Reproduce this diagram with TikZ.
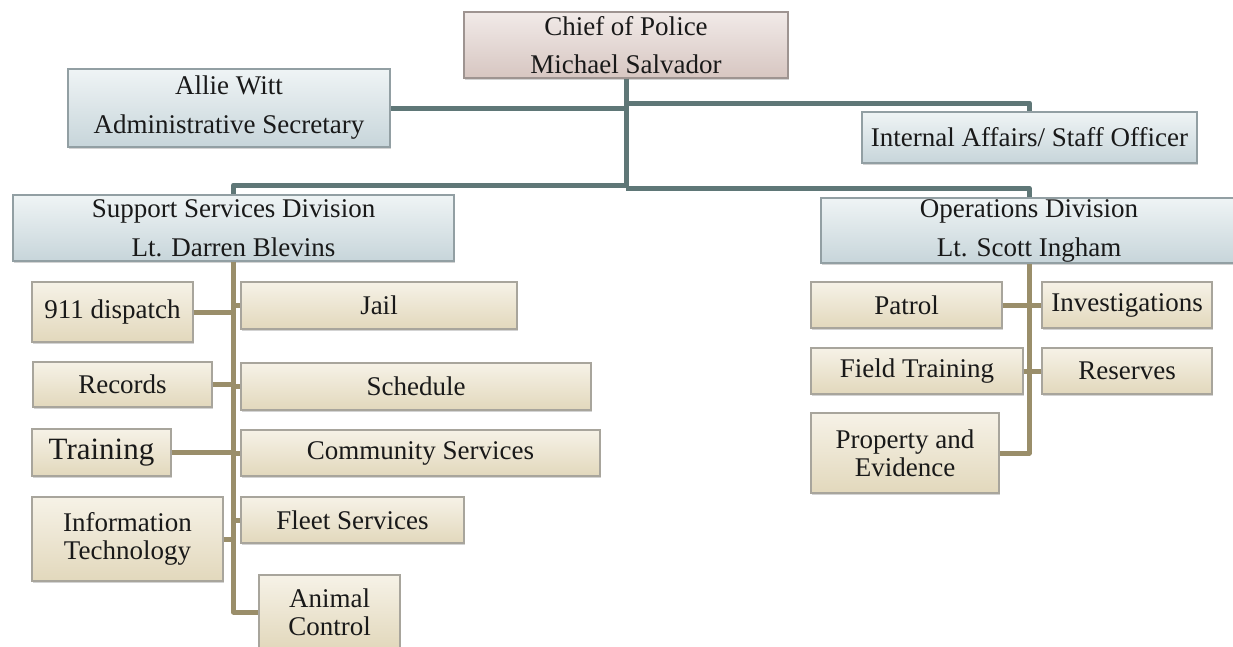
\documentclass[tikz,border=0pt]{standalone}
\usepackage{fontspec}
\setmainfont{Liberation Serif}
\usetikzlibrary{shadows}
\definecolor{linegray}{HTML}{5F7777}
\definecolor{linetan}{HTML}{9A8E6A}
\definecolor{bluetop}{HTML}{EFF4F5}
\definecolor{bluebot}{HTML}{C7D5DA}
\definecolor{blueedge}{HTML}{929FA3}
\definecolor{tantop}{HTML}{F6F2E7}
\definecolor{tanbot}{HTML}{E2D8BC}
\definecolor{tanedge}{HTML}{A8A59C}
\definecolor{pinktop}{HTML}{F1EAE8}
\definecolor{pinkbot}{HTML}{D7C6C1}
\definecolor{pinkedge}{HTML}{9E9491}
\tikzset{
  box/.style={draw, line width=1.2pt, inner sep=1pt, align=center, text=black!90,
    drop shadow={shadow xshift=.8pt, shadow yshift=-2.2pt, opacity=.35}},
  headbox/.style={box, draw=pinkedge, top color=pinktop, bottom color=pinkbot,
    font=\fontsize{27}{38}\selectfont},
  bluebox/.style={box, draw=blueedge, top color=bluetop, bottom color=bluebot,
    font=\fontsize{27}{39}\selectfont},
  tanbox/.style={box, draw=tanedge, top color=tantop, bottom color=tanbot,
    font=\fontsize{27}{28}\selectfont},
  grayline/.style={draw=linegray, line width=5pt, line join=round},
  tanline/.style={draw=linetan, line width=5pt, line join=round}
}
\begin{document}
\begin{tikzpicture}[x=1pt, y=-1pt]
    \useasboundingbox (0, 0) rectangle (1233, 646);
    \node[headbox, minimum width=324pt, minimum height=66pt] (0) at (626, 45) {Chief of Police\\Michael Salvador};
    \node[bluebox, minimum width=322pt, minimum height=78pt] (1) at (229, 108) {Allie Witt\\Administrative Secretary};
    \node[bluebox, minimum width=335pt, minimum height=51pt] (2) at (1029.5, 137.5) {Internal Affairs/ Staff Officer};
    \node[bluebox, minimum width=441pt, minimum height=66pt] (3) at (233.5, 228) {Support Services Division\\Lt. Darren Blevins};
    \node[bluebox, minimum width=416pt, minimum height=65pt] (4) at (1029, 230.5) {Operations Division\\Lt. Scott Ingham};
    \node[tanbox, minimum width=161pt, minimum height=60pt] (11) at (112.5, 312) {911 dispatch};
    \node[tanbox, minimum width=276pt, minimum height=47pt] (12) at (379, 305.5) {Jail};
    \node[tanbox, minimum width=179pt, minimum height=45pt] (13) at (122.5, 384.5) {Records};
    \node[tanbox, minimum width=350pt, minimum height=47pt] (14) at (416, 386.5) {Schedule};
    \node[tanbox, minimum width=139pt, minimum height=47pt, font=\fontsize{31}{32}\selectfont] (15) at (101.5, 452.5) {Training};
    \node[tanbox, minimum width=359pt, minimum height=46pt] (16) at (420.5, 453) {Community Services};
    \node[tanbox, minimum width=191pt, minimum height=84pt] (17) at (127.5, 539) {Information\\Technology};
    \node[tanbox, minimum width=223pt, minimum height=46pt] (18) at (352.5, 520) {Fleet Services};
    \node[tanbox, minimum width=141pt, minimum height=74pt] (19) at (329.5, 612) {Animal\\Control};
    \node[tanbox, minimum width=191pt, minimum height=46pt] (21) at (906.5, 305) {Patrol};
    \node[tanbox, minimum width=170pt, minimum height=46pt] (22) at (1127, 305) {Investigations};
    \node[tanbox, minimum width=212pt, minimum height=46pt] (23) at (917, 371) {Field Training};
    \node[tanbox, minimum width=170pt, minimum height=46pt] (24) at (1127, 371) {Reserves};
    \node[tanbox, minimum width=188pt, minimum height=80pt] (25) at (905, 453) {Property and\\Evidence};
    \coordinate (31) at (626, 103);
    \coordinate (32) at (626, 185);
    \coordinate (33) at (626, 188);
    % chief
    \draw [grayline] (0.south) -- (33);
    \draw [grayline] (0.south) |- (1.east);
    \draw [grayline] (31) -| (2.north);
    \draw [grayline] (32) -| (3.north);
    \draw [grayline] (33) -| (4.north);
    % support services
    \draw [tanline] (3.south) |- (19.west);
    \draw [tanline] (11.east) -- (11.east -| 3.south);
    \draw [tanline] (13.east) -- (13.east -| 3.south);
    \draw [tanline] (15.east) -- (15.east -| 3.south);
    \draw [tanline] (17.east) -- (17.east -| 3.south);
    \draw [tanline] (12.west) -- (12.west -| 3.south);
    \draw [tanline] (14.west) -- (14.west -| 3.south);
    \draw [tanline] (16.west) -- (16.west -| 3.south);
    \draw [tanline] (18.west) -- (18.west -| 3.south);
    % operations
    \draw [tanline] (4.south) |- (25.east);
    \draw [tanline] (21.east) -- (21.east -| 4.south);
    \draw [tanline] (22.west) -- (22.west -| 4.south);
    \draw [tanline] (23.east) -- (23.east -| 4.south);
    \draw [tanline] (24.west) -- (24.west -| 4.south);
\end{tikzpicture}
\end{document}
